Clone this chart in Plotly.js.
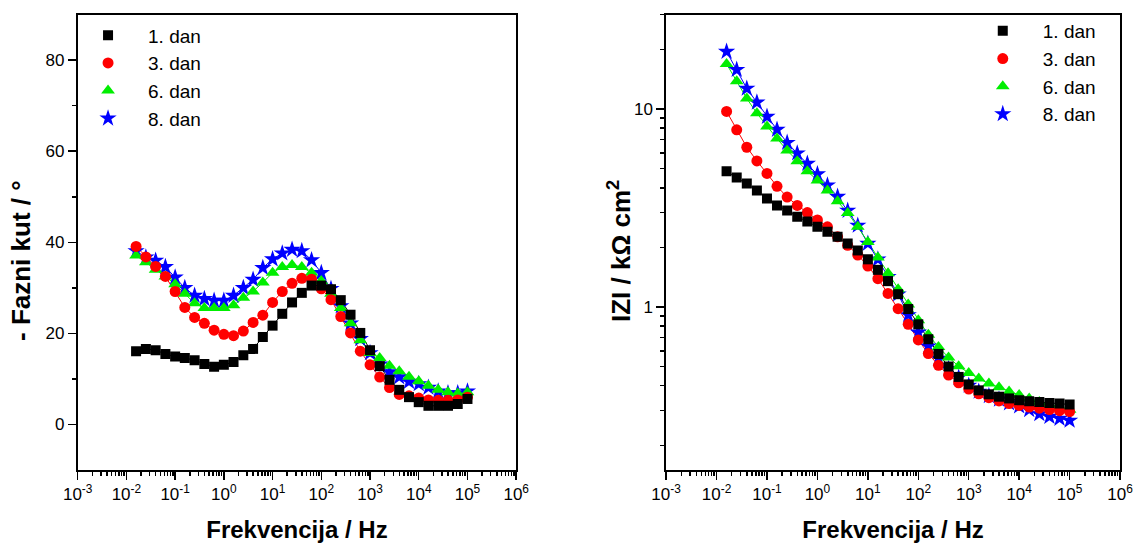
<!DOCTYPE html>
<html>
<head>
<meta charset="utf-8">
<script src="https://cdn.plot.ly/plotly-3.0.1.min.js"></script>
<style>html,body{margin:0;padding:0;background:#fff;}#chart{width:1134px;height:545px;}</style>
</head>
<body>
<div id="chart"></div>
<script>
// Frequencies (Hz)
const freq = [0.0158,0.0251,0.0398,0.0631,0.1,0.158,0.251,0.398,0.631,1,1.58,2.51,3.98,6.31,10,15.8,25.1,39.8,63.1,100,158,251,398,631,1000,1580,2510,3980,6310,10000,15800,25100,39800,63100,100000];

// Series names
const seriesNames = ['1. dan','3. dan','6. dan','8. dan'];

// - Phase angle (degrees)
const phase1 = [16.1,16.6,16.3,15.5,14.9,14.6,14.1,13.3,12.7,13.1,13.7,15.2,16.6,19.2,21.7,24.3,26.8,28.9,30.5,30.5,29.7,27.3,24.1,20.1,16.3,12.8,9.8,7.6,6.0,4.9,4.1,4.1,4.1,4.5,5.6];
const phase3 = [39.1,36.8,34.7,32.5,29.2,25.7,23.5,22.2,20.7,19.8,19.5,20.5,22.4,24.0,26.8,29.2,31.0,32.1,31.9,29.8,27.4,23.7,20.1,16.1,13.1,10.4,8.1,6.6,6.3,5.8,5.4,5.3,5.3,5.4,6.0];
const phase6 = [37.1,35.6,34.0,32.5,30.8,28.7,26.6,25.6,25.6,25.6,26.2,27.8,29.2,31.2,33.3,34.6,35.0,34.6,33.3,31.5,28.7,25.6,22.2,18.5,15.7,14.6,12.9,11.7,10.5,9.5,8.5,7.6,7.1,6.8,7.1];
const phase8 = [38.1,36.7,36.0,34.6,32.3,30.0,28.3,27.6,27.2,27.2,28.3,30.0,31.8,34.4,36.3,37.6,38.4,38.1,36.1,33.3,29.8,26.0,22.2,18.8,15.7,13.2,11.5,10.4,9.4,8.9,8.1,7.3,6.9,6.9,7.3];

// |Z| (kOhm cm2)
const z1 = [4.85,4.51,4.21,3.88,3.53,3.26,3.07,2.86,2.70,2.54,2.40,2.26,2.09,1.93,1.74,1.54,1.35,1.16,0.976,0.817,0.687,0.579,0.500,0.443,0.406,0.379,0.362,0.352,0.345,0.338,0.334,0.331,0.327,0.325,0.321];
const z3 = [9.72,7.85,6.41,5.47,4.73,4.07,3.59,3.26,3.00,2.75,2.54,2.26,2.05,1.83,1.61,1.39,1.17,0.98,0.817,0.681,0.581,0.507,0.453,0.414,0.385,0.364,0.348,0.335,0.325,0.318,0.312,0.308,0.303,0.299,0.296];
const z6 = [16.9,13.8,11.3,9.52,8.17,7.09,6.18,5.45,4.85,4.36,3.88,3.42,2.98,2.54,2.13,1.78,1.48,1.23,1.03,0.857,0.723,0.628,0.556,0.502,0.464,0.435,0.410,0.393,0.374,0.359,0.345,0.331,0.321,0.312,0.302];
const z8 = [19.5,15.8,12.7,10.8,9.15,7.87,6.76,5.98,5.30,4.69,4.12,3.61,3.07,2.58,2.09,1.74,1.42,1.16,0.911,0.744,0.633,0.549,0.487,0.440,0.401,0.374,0.355,0.341,0.327,0.315,0.302,0.288,0.279,0.273,0.267];

// Tick labels
const xTickVals = [0.001,0.01,0.1,1,10,100,1000,10000,100000,1000000];
const xTickText = ['10<sup>-3</sup>','10<sup>-2</sup>','10<sup>-1</sup>','10<sup>0</sup>','10<sup>1</sup>','10<sup>2</sup>','10<sup>3</sup>','10<sup>4</sup>','10<sup>5</sup>','10<sup>6</sup>'];
const zTickVals = [1,10];
const zTickText = ['1','10'];
const phaseMinorVals = [10,30,50,70];

// Titles
const xTitle = 'Frekvencija / Hz';
const yTitleLeft = '- Fazni kut / °';
const yTitleRight = 'IZI / kΩ cm<sup>2</sup>';

// minor tick positions for log axes (2..9 per decade)
function logMinor(decFrom, decTo) {
  const out = [];
  for (let d = decFrom; d <= decTo; d++) {
    for (let m = 2; m <= 9; m++) out.push(m * Math.pow(10, d));
  }
  return out;
}
const xMinorVals = logMinor(-3, 5);
const zMinorVals = logMinor(-1, 1).filter(v => v >= 0.15 && v <= 30);

const colors = ['#000000','#ff0000','#00ee00','#0000ff'];
const symbols = ['square','circle','triangle-up','star'];
const sizes = [10,11,12,13];

const phases = [phase1, phase3, phase6, phase8];
const zs = [z1, z3, z6, z8];

const traces = [];
function addSeries(yarr, xa, ya, leg) {
  // connecting lines (no legend)
  [3,2,1,0].forEach(i => {
    traces.push({
      x: freq, y: yarr[i], type: 'scatter', mode: 'lines',
      name: seriesNames[i], xaxis: xa, yaxis: ya, showlegend: false,
      line: {color: colors[i], width: 1}, hoverinfo: 'skip'
    });
  });
  // markers: draw order 8, 6, 3, 1 (black on top)
  [3,2,1,0].forEach(i => {
    traces.push({
      x: freq, y: yarr[i], type: 'scatter', mode: 'markers',
      name: seriesNames[i], xaxis: xa, yaxis: ya, legend: leg,
      marker: {symbol: symbols[i], color: colors[i], size: sizes[i]}
    });
  });
}
addSeries(phases, 'x', 'y', 'legend');
addSeries(zs, 'x2', 'y2', 'legend2');

// invisible carrier traces so the minor-tick overlay axes get drawn
[['x3','y'],['x4','y2'],['x','y3'],['x2','y4']].forEach(([xa, ya], k) => {
  traces.push({x: [freq[0]], y: [k % 2 ? z1[0] : phase1[0]], xaxis: xa, yaxis: ya,
    type: 'scatter', mode: 'markers', marker: {opacity: 0}, showlegend: false, hoverinfo: 'skip'});
});

const FONT = 'Arial, Liberation Sans, sans-serif';
const tickFont = {family: FONT, size: 17, color: '#000'};
const xTitleFont = {family: FONT, size: 24, color: '#000', weight: 'bold'};
const yTitleFont = {family: FONT, size: 26, color: '#000', weight: 'bold'};

const DOM_Y = [0.1376, 0.9732];
const DOM_X1 = [0.0685, 0.4552];
const DOM_X2 = [0.5874, 0.9877];
const ZRANGE = [Math.log10(0.15), Math.log10(30)];

function xAxis(domain, anchor) {
  return {
    type: 'log', domain: domain, anchor: anchor, range: [-3, 6],
    tickmode: 'array', tickvals: xTickVals, ticktext: xTickText,
    ticks: 'outside', ticklen: 8, tickwidth: 1.5, tickcolor: '#000',
    showline: true, linecolor: '#000', linewidth: 1.8, mirror: true,
    showgrid: false, zeroline: false, tickfont: tickFont,
    title: {text: xTitle, font: xTitleFont, standoff: 18}
  };
}

// overlay axes that only carry the minor tick marks
function minorAxis(base, anchor, type, range, vals, side) {
  return {
    overlaying: base, anchor: anchor, side: side, type: type, range: range,
    tickmode: 'array', tickvals: vals, showticklabels: false,
    ticks: 'outside', ticklen: 5, tickwidth: 1.5, tickcolor: '#000',
    showgrid: false, zeroline: false
  };
}

const legendBase = {
  xref: 'paper', yref: 'paper', xanchor: 'left', yanchor: 'top',
  bgcolor: 'rgba(0,0,0,0)', borderwidth: 0,
  font: {family: FONT, size: 19, color: '#000'},
  traceorder: 'reversed', itemwidth: 70, tracegroupgap: 0
};

const layout = {
  width: 1134, height: 545,
  margin: {l: 0, r: 0, t: 0, b: 0},
  paper_bgcolor: '#fff', plot_bgcolor: '#fff',
  showlegend: true,
  xaxis: xAxis(DOM_X1, 'y'),
  yaxis: {
    domain: DOM_Y, anchor: 'x', range: [-10, 90],
    tick0: 0, dtick: 20,
    ticks: 'outside', ticklen: 8, tickwidth: 1.5, tickcolor: '#000',
    showline: true, linecolor: '#000', linewidth: 1.8, mirror: true,
    showgrid: false, zeroline: false, tickfont: tickFont
  },
  xaxis2: xAxis(DOM_X2, 'y2'),
  yaxis2: {
    type: 'log', domain: DOM_Y, anchor: 'x2', range: ZRANGE,
    tickmode: 'array', tickvals: zTickVals, ticktext: zTickText,
    ticks: 'outside', ticklen: 8, tickwidth: 1.5, tickcolor: '#000',
    showline: true, linecolor: '#000', linewidth: 1.8, mirror: true,
    showgrid: false, zeroline: false, tickfont: tickFont
  },
  xaxis3: minorAxis('x', 'y', 'log', [-3, 6], xMinorVals, 'bottom'),
  xaxis4: minorAxis('x2', 'y2', 'log', [-3, 6], xMinorVals, 'bottom'),
  yaxis3: minorAxis('y', 'x', 'linear', [-10, 90], phaseMinorVals, 'left'),
  yaxis4: minorAxis('y2', 'x2', 'log', ZRANGE, zMinorVals, 'left'),
  annotations: [
    {text: yTitleLeft, xref: 'paper', yref: 'paper', x: 21/1134, y: 1 - 261/545,
     xanchor: 'center', yanchor: 'middle', textangle: -90, showarrow: false, font: yTitleFont},
    {text: yTitleRight, xref: 'paper', yref: 'paper', x: 619/1134, y: 1 - 251/545,
     xanchor: 'center', yanchor: 'middle', textangle: -90, showarrow: false, font: yTitleFont}
  ],
  legend: Object.assign({}, legendBase, {x: 0.06, y: 0.970}),
  legend2: Object.assign({}, legendBase, {x: 0.849, y: 0.978})
};

Plotly.newPlot('chart', traces, layout, {displayModeBar: false, staticPlot: true});
</script>
</body>
</html>
